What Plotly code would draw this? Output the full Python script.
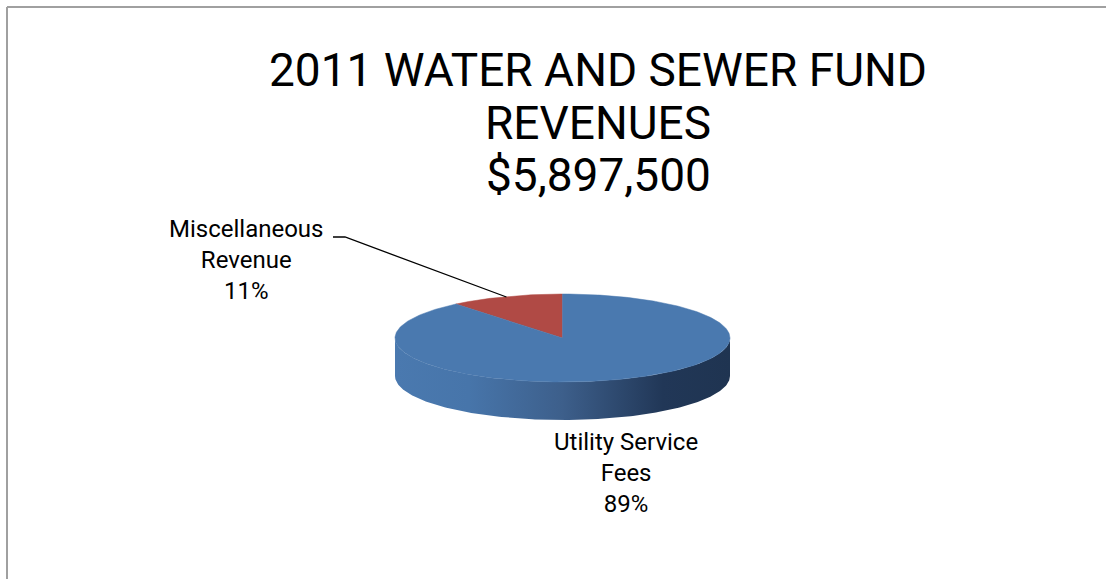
import numpy as np
import plotly.graph_objects as go

# Fund revenue data
categories = ["Utility Service<br>Fees", "Miscellaneous<br>Revenue"]
amounts = [5250000, 647500]
colors = ["#4a79af", "#b04a45"]
title_lines = ["2011 WATER AND SEWER FUND", "REVENUES", "$5,897,500"]

W, H = 1106, 579
# geometry of the tilted pie (pixel space)
CX, CY = 562.5, 338.0
RX, RY = 167.5, 44.0
DEPTH = 38.0
START = 90.0  # first slice starts at 12 o'clock

total = float(sum(amounts))
pct = [round(100 * v / total) for v in amounts]


def pt(theta_deg, r=1.0):
    t = np.radians(theta_deg)
    return CX + r * RX * np.cos(t), CY - r * RY * np.sin(t)


# slices run counter-clockwise starting with the last category
order = [1, 0]
spans = {}
acc = START
for i in order:
    sweep = 360.0 * amounts[i] / total
    spans[i] = (acc, acc + sweep)
    acc += sweep

fig = go.Figure()

side_scale = [[0.0, "#4a79af"], [0.22, "#4775aa"], [0.5, "#3d5f8b"],
              [0.8, "#213757"], [1.0, "#1f3451"]]

# visible side wall: front half of the rim (180..360 deg)
for i in order:
    a0, a1 = spans[i]
    for base in (0.0, 360.0):
        lo, hi = max(a0, 180 + base), min(a1, 360 + base)
        if hi <= lo:
            continue
        th = np.linspace(lo, hi, 200)
        xs_t, ys_t = pt(th)
        xs = np.concatenate([xs_t, xs_t[::-1]])
        ys = np.concatenate([ys_t, ys_t[::-1] + DEPTH])
        fig.add_trace(go.Scatter(
            x=xs, y=ys, mode="lines", fill="toself",
            line=dict(width=0, color=colors[i]),
            fillgradient=dict(type="horizontal", colorscale=side_scale,
                              start=CX - RX, stop=CX + RX),
            hoverinfo="skip", showlegend=False))

# top faces
for i in order:
    a0, a1 = spans[i]
    th = np.linspace(a0, a1, 400)
    xs, ys = pt(th)
    xs = np.concatenate([[CX], xs, [CX]])
    ys = np.concatenate([[CY], ys, [CY]])
    fig.add_trace(go.Scatter(
        x=xs, y=ys, mode="lines", fill="toself", fillcolor=colors[i],
        line=dict(width=0.5, color=colors[i]),
        hoverinfo="skip", showlegend=False))

# leader line to the small slice
misc = 1
mid = 0.5 * (spans[misc][0] + spans[misc][1])
ex, ey = pt(mid, 0.99)
fig.add_trace(go.Scatter(
    x=[333, 345, ex], y=[237, 237, ey], mode="lines",
    line=dict(color="black", width=1.3), hoverinfo="skip", showlegend=False))

label_font = dict(family="Roboto, Arial, sans-serif", size=24, color="#000000")
fig.add_annotation(x=246, y=260, xref="x", yref="y",
                   text=f"{categories[misc]}<br>{pct[misc]}%",
                   showarrow=False, font=label_font, align="center")
fig.add_annotation(x=626, y=473, xref="x", yref="y",
                   text=f"{categories[0]}<br>{pct[0]}%",
                   showarrow=False, font=label_font, align="center")

title_font = dict(family="Roboto, Arial, sans-serif", size=46, color="#000000")
for line, yc in zip(title_lines, [70, 123, 175]):
    fig.add_annotation(x=598, y=yc, xref="x", yref="y", text=line,
                       showarrow=False, font=title_font)

# chart area border
fig.add_shape(type="line", x0=7, y0=7, x1=W, y1=7, xref="x", yref="y",
              line=dict(color="#a0a0a0", width=2))
fig.add_shape(type="line", x0=7, y0=7, x1=7, y1=H, xref="x", yref="y",
              line=dict(color="#a0a0a0", width=2))

fig.update_layout(
    width=W, height=H, margin=dict(l=0, r=0, t=0, b=0),
    paper_bgcolor="white", plot_bgcolor="white",
    xaxis=dict(range=[0, W], visible=False, fixedrange=True),
    yaxis=dict(range=[H, 0], visible=False, fixedrange=True),
)

fig.write_html("out.html")
